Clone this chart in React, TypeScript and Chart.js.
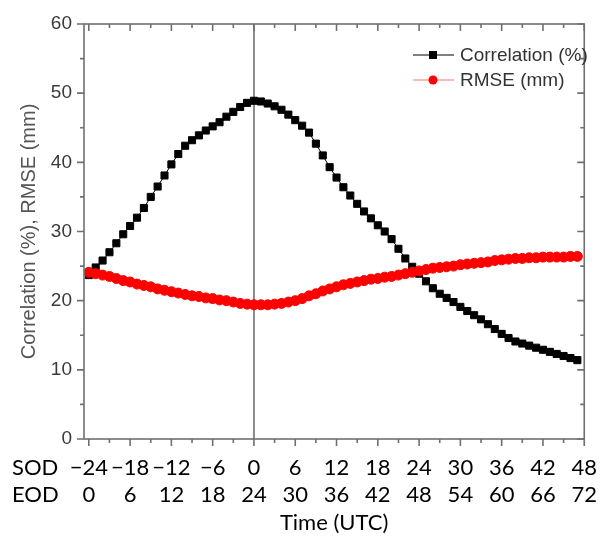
import React, { useEffect, useRef } from "react";
import { Chart, registerables } from "chart.js";

Chart.register(...registerables);

// ---- data ----
const hours = [
  -24, -23, -22, -21, -20, -19, -18, -17, -16, -15, -14, -13, -12, -11, -10, -9, -8, -7, -6, -5, -4, -3, -2, -1,
  0, 1, 2, 3, 4, 5, 6, 7, 8, 9, 10, 11, 12, 13, 14, 15, 16, 17, 18, 19, 20, 21, 22, 23,
  24, 25, 26, 27, 28, 29, 30, 31, 32, 33, 34, 35, 36, 37, 38, 39, 40, 41, 42, 43, 44, 45, 46, 47,
];

const correlation = [
  23.7, 24.8, 25.8, 27.0, 28.3, 29.6, 30.8, 32.0, 33.4, 35.0, 36.5, 38.1, 39.7, 41.2, 42.4, 43.2, 43.9, 44.6, 45.2, 45.8, 46.6, 47.3, 48.0, 48.6,
  48.9, 48.8, 48.5, 48.1, 47.6, 46.9, 46.1, 45.3, 44.3, 42.7, 41.0, 39.3, 37.8, 36.4, 35.2, 34.0, 32.9, 31.9, 30.9, 30.0, 28.9, 27.5, 26.1, 24.9,
  23.9, 22.8, 21.8, 21.0, 20.4, 19.8, 19.1, 18.5, 17.9, 17.3, 16.6, 15.9, 15.2, 14.6, 14.1, 13.8, 13.5, 13.2, 12.9, 12.6, 12.3, 12.0, 11.7, 11.4,
];

const rmse = [
  24.1, 23.9, 23.7, 23.5, 23.2, 22.9, 22.7, 22.4, 22.2, 22.0, 21.7, 21.5, 21.3, 21.1, 20.9, 20.7, 20.6, 20.4, 20.3, 20.1, 20.0, 19.8, 19.6, 19.5,
  19.4, 19.4, 19.4, 19.5, 19.6, 19.8, 20.0, 20.3, 20.7, 21.0, 21.4, 21.7, 22.0, 22.3, 22.5, 22.7, 22.9, 23.1, 23.2, 23.4, 23.5, 23.7, 23.9, 24.1,
  24.3, 24.5, 24.7, 24.8, 24.9, 25.0, 25.2, 25.3, 25.4, 25.5, 25.6, 25.8, 25.9, 26.0, 26.1, 26.1, 26.2, 26.2, 26.3, 26.3, 26.3, 26.3, 26.4, 26.4,
];

const xTickValues = [-24, -21, -18, -15, -12, -9, -6, -3, 0, 3, 6, 9, 12, 15, 18, 21, 24, 27, 30, 33, 36, 39, 42, 45, 48];
const xLabelledValues = [-24, -18, -12, -6, 0, 6, 12, 18, 24, 30, 36, 42, 48];
const sodLabels = ["\u221224", "\u221218", "\u221212", "\u22126", "0", "6", "12", "18", "24", "30", "36", "42", "48"];
const eodLabels = ["0", "6", "12", "18", "24", "30", "36", "42", "48", "54", "60", "66", "72"];
const rowNames = ["SOD", "EOD"];
const yTickMarks = [0, 5, 10, 15, 20, 25, 30, 35, 40, 45, 50, 55, 60];
const refLineValue = 0;

const seriesNames = ["Correlation (%)", "RMSE (mm)"];
const yTitle = "Correlation (%), RMSE (mm)";
const xTitle = "Time (UTC)";

const AXIS_COLOR = "#707070";
const X_FONT = "Lato";
const X_FONT_SIZE = 22;
const X_LINE_H = 27;
const X_PAD = 15;

const decorPlugin = {
  id: "decor",
  beforeDatasetsDraw(chart: any) {
    const { ctx, chartArea: a, scales } = chart;
    const x0 = scales.x.getPixelForValue(refLineValue);
    ctx.save();
    ctx.strokeStyle = "#8a8a8a";
    ctx.lineWidth = 2;
    ctx.beginPath();
    ctx.moveTo(x0, a.top);
    ctx.lineTo(x0, a.bottom);
    ctx.stroke();
    ctx.restore();
  },
  afterDatasetsDraw(chart: any) {
    const { ctx, chartArea: a, scales } = chart;
    const xs = scales.x;
    const ys = scales.y;
    ctx.save();
    ctx.strokeStyle = AXIS_COLOR;
    ctx.lineWidth = 1.6;
    ctx.strokeRect(a.left, a.top, a.right - a.left, a.bottom - a.top);
    ctx.beginPath();
    for (const v of xTickValues) {
      const px = xs.getPixelForValue(v);
      const len = xLabelledValues.includes(v) ? 7 : 4;
      ctx.moveTo(px, a.bottom);
      ctx.lineTo(px, a.bottom + len);
      ctx.moveTo(px, a.top);
      ctx.lineTo(px, a.top + len);
    }
    for (const v of yTickMarks) {
      const py = ys.getPixelForValue(v);
      const len = v % 10 === 0 ? 7 : 4;
      ctx.moveTo(a.left, py);
      ctx.lineTo(a.left - len, py);
      ctx.moveTo(a.right, py);
      ctx.lineTo(a.right - len, py);
    }
    ctx.stroke();
    ctx.restore();
  },
  afterDraw(chart: any) {
    const { ctx, chartArea: a } = chart;
    ctx.save();
    // SOD / EOD row names
    ctx.fillStyle = "#000";
    ctx.font = `${X_FONT_SIZE}px ${X_FONT}`;
    ctx.textAlign = "left";
    ctx.textBaseline = "middle";
    rowNames.forEach((n, i) => {
      ctx.fillText(n, 12, a.bottom + X_PAD + X_LINE_H * (i + 0.5));
    });
    // legend
    const lx = 413;
    const items = [
      { color: "#000000", line: "#000000", style: "rect" },
      { color: "#ff0000", line: "rgba(255,0,0,0.55)", style: "circle" },
    ];
    ctx.font = "19px 'Liberation Sans', Arial, sans-serif";
    items.forEach((it, i) => {
      const ly = a.top + 31 + i * 25;
      ctx.strokeStyle = it.line;
      ctx.lineWidth = 1;
      ctx.beginPath();
      ctx.moveTo(lx, ly);
      ctx.lineTo(lx + 41, ly);
      ctx.stroke();
      ctx.fillStyle = it.color;
      ctx.beginPath();
      if (it.style === "rect") ctx.rect(lx + 20 - 4, ly - 4, 8, 8);
      else ctx.arc(lx + 20, ly, 4.5, 0, Math.PI * 2);
      ctx.fill();
      ctx.fillStyle = "#333";
      ctx.textAlign = "left";
      ctx.textBaseline = "middle";
      ctx.fillText(seriesNames[i], lx + 47, ly + 1);
    });
    ctx.restore();
  },
};

export default function App() {
  const ref = useRef<HTMLCanvasElement | null>(null);
  useEffect(() => {
    if (!ref.current) return;
    const chart = new Chart(ref.current, {
      type: "line",
      data: {
        datasets: [
          {
            label: seriesNames[0],
            data: hours.map((h, i) => ({ x: h, y: correlation[i] })),
            borderColor: "#000",
            backgroundColor: "#000",
            borderWidth: 1,
            pointStyle: "rect",
            pointRadius: 5,
            pointBorderWidth: 1,
            pointBackgroundColor: "#000",
            pointBorderColor: "#000",
            order: 2,
          },
          {
            label: seriesNames[1],
            data: hours.map((h, i) => ({ x: h, y: rmse[i] })),
            borderColor: "rgba(255,0,0,0.6)",
            backgroundColor: "#ff0000",
            borderWidth: 1,
            pointStyle: "circle",
            pointRadius: 5,
            pointBorderWidth: 1,
            pointBackgroundColor: "#ff0000",
            pointBorderColor: "#ff0000",
            order: 1,
          },
        ],
      },
      options: {
        animation: false,
        responsive: false,
        layout: { padding: { top: 24, right: 13, left: 0, bottom: 0 } },
        plugins: { legend: { display: false }, tooltip: { enabled: false } },
        scales: {
          x: {
            type: "linear",
            min: -24.7,
            max: 48,
            afterBuildTicks: (scale: any) => {
              scale.ticks = xTickValues.map((v) => ({ value: v }));
            },
            afterFit: (scale: any) => {
              scale.height = 98;
            },
            grid: { display: false, drawTicks: false },
            border: { display: false },
            ticks: {
              autoSkip: false,
              maxRotation: 0,
              minRotation: 0,
              padding: X_PAD,
              color: "#000",
              font: { family: X_FONT, size: X_FONT_SIZE, lineHeight: X_LINE_H / X_FONT_SIZE },
              callback: (v: any) => {
                const idx = xLabelledValues.indexOf(Number(v));
                return idx >= 0 ? [sodLabels[idx], eodLabels[idx]] : "";
              },
            },
            title: {
              display: true,
              text: xTitle,
              color: "#000",
              font: { family: X_FONT, size: X_FONT_SIZE },
              padding: { top: 0, bottom: 1 },
            },
          },
          y: {
            min: 0,
            max: 60,
            afterFit: (scale: any) => {
              scale.width = 84;
            },
            grid: { display: false, drawTicks: false },
            border: { display: false },
            ticks: {
              stepSize: 10,
              padding: 12,
              color: "#3a3a3a",
              font: { family: "'Liberation Sans', Arial, sans-serif", size: 19 },
            },
            title: {
              display: true,
              text: yTitle,
              color: "#555",
              font: { family: "'Liberation Sans', Arial, sans-serif", size: 20 },
              padding: { top: 17, bottom: 0 },
            },
          },
        },
      },
      plugins: [decorPlugin],
    });
    return () => chart.destroy();
  }, []);
  return (
    <div style={{ position: "absolute", left: 0, top: 0, width: 612, height: 537, background: "#fff" }}>
      <canvas ref={ref} width={612} height={537} />
    </div>
  );
}
